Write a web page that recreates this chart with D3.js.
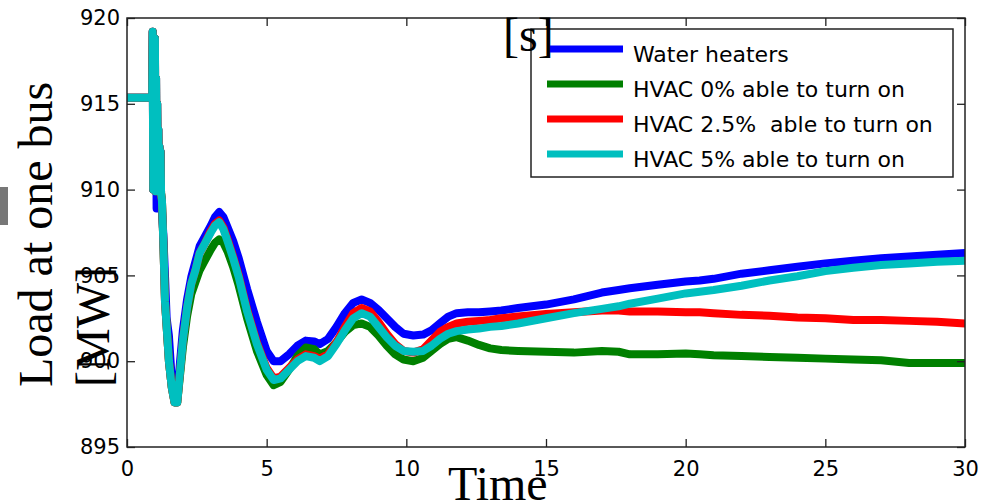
<!DOCTYPE html>
<html>
<head>
<meta charset="utf-8">
<script src="https://cdn.jsdelivr.net/npm/d3@7"></script>
<style>
  body { margin: 0; background: white; }
  svg { display: block; }
</style>
</head>
<body>
<div class="load-plot"></div>
<script>
// time [s]
const time = [0, 0.9, 0.92, 0.94, 0.96, 0.98, 1.0, 1.02, 1.04, 1.06, 1.08, 1.1, 1.12, 1.14, 1.16, 1.18, 1.2, 1.22, 1.25,
  1.3, 1.36, 1.42, 1.5, 1.6, 1.7, 1.8, 1.9, 2.0, 2.15, 2.3, 2.45, 2.6, 2.8, 3.0, 3.15, 3.3, 3.45, 3.6, 3.8, 4.0,
  4.3, 4.65, 5.0, 5.25, 5.5, 5.8, 6.1, 6.4, 6.7, 6.9, 7.2, 7.5, 7.8, 8.1, 8.4, 8.7, 9.0, 9.3, 9.6, 9.9,
  10.25, 10.6, 10.9, 11.2, 11.5, 11.8, 12.2, 12.6, 13.0, 13.4, 14, 15, 16, 17, 17.6, 18, 19, 20, 20.5, 21,
  22, 23, 24, 25, 26, 27, 28, 29, 30];

const waterHeaters = [915.35, 915.35, 919.2, 910.0, 917.5, 910.2, 918.8, 909.9, 916.5, 908.9, 915.0, 910.1, 913.5, 909.0, 912.5, 910.0, 912.2, 909.0, 908.8,
  907.4, 905.0, 902.5, 901.5, 899.0, 897.9, 898.0, 900.0, 901.8, 903.6, 904.9, 905.8, 906.7, 907.3, 907.9, 908.4, 908.7, 908.4, 907.8, 907.0, 906.0,
  904.2, 902.3, 900.6, 900.0, 900.0, 900.4, 900.9, 901.2, 901.15, 901.0, 901.3, 902.0, 902.8, 903.4, 903.6, 903.4, 903.0, 902.5, 902.0, 901.6,
  901.5, 901.55, 901.8, 902.2, 902.6, 902.8, 902.85, 902.85, 902.9, 902.95, 903.1, 903.3, 903.6, 904.0, 904.15, 904.25, 904.45, 904.65, 904.7, 904.8,
  905.1, 905.3, 905.5, 905.7, 905.85, 906.0, 906.1, 906.2, 906.3];

const hvac0 = [915.35, 915.35, 919.2, 910.0, 917.5, 910.2, 918.8, 909.9, 916.5, 910.0, 915.0, 910.1, 913.5, 909.9, 912.5, 910.0, 912.2, 909.8, 909.4,
  907.0, 903.5, 902.0, 900.0, 898.5, 897.6, 897.6, 899.2, 900.8, 902.6, 903.9, 904.6, 905.3, 905.9, 906.5, 906.9, 907.1, 906.9, 906.4, 905.5, 904.4,
  902.5, 900.6, 899.2, 898.6, 898.8, 899.5, 900.3, 900.8, 900.7, 900.4, 900.6, 901.1, 901.7, 902.1, 902.2, 902.0, 901.5, 900.9, 900.4, 900.1,
  900.0, 900.2, 900.6, 901.0, 901.3, 901.4, 901.2, 900.95, 900.75, 900.65, 900.6, 900.55, 900.5, 900.6, 900.55, 900.4, 900.4, 900.45, 900.4, 900.35,
  900.3, 900.25, 900.2, 900.15, 900.1, 900.05, 899.9, 899.9, 899.9];

const hvac25 = [915.35, 915.35, 919.2, 910.0, 917.5, 910.2, 918.8, 909.9, 916.5, 910.0, 915.0, 910.1, 913.5, 909.9, 912.5, 910.0, 912.2, 909.8, 909.4,
  907.0, 903.5, 902.0, 900.0, 898.5, 897.6, 897.6, 899.4, 901.2, 903.1, 904.5, 905.3, 906.3, 906.9, 907.6, 908.0, 908.2, 907.8, 907.1, 906.1, 905.0,
  903.0, 901.1, 899.6, 899.0, 899.1, 899.6, 900.1, 900.4, 900.3, 900.15, 900.4, 901.1, 902.0, 902.8, 903.1, 902.9, 902.3, 901.6, 901.0, 900.6,
  900.5, 900.7, 901.2, 901.7, 902.0, 902.2, 902.3, 902.35, 902.4, 902.5, 902.6, 902.75, 902.85, 902.95, 902.95, 902.9, 902.9, 902.85, 902.85, 902.8,
  902.7, 902.65, 902.55, 902.5, 902.4, 902.4, 902.35, 902.3, 902.2];

const hvac5 = [915.35, 915.35, 919.2, 910.0, 917.5, 910.2, 918.8, 909.9, 916.5, 910.0, 915.0, 910.1, 913.5, 909.9, 912.5, 910.0, 912.2, 909.8, 909.4,
  907.0, 903.5, 902.0, 900.0, 898.5, 897.6, 897.6, 899.4, 901.2, 903.1, 904.5, 905.3, 906.3, 906.9, 907.5, 907.9, 908.1, 907.7, 907.0, 906.0, 904.9,
  902.9, 901.0, 899.5, 898.9, 899.0, 899.5, 900.0, 900.3, 900.2, 900.0, 900.3, 901.0, 901.8, 902.5, 902.8, 902.6, 902.0, 901.4, 900.9, 900.6,
  900.55, 900.6, 900.9, 901.3, 901.6, 901.75, 901.85, 901.9, 902.0, 902.05, 902.2, 902.5, 902.8, 903.05, 903.2, 903.35, 903.65, 903.95, 904.05, 904.15,
  904.4, 904.7, 904.95, 905.25, 905.45, 905.6, 905.7, 905.8, 905.85];

const seriesNames = ['Water heaters', 'HVAC 0% able to turn on', 'HVAC 2.5%  able to turn on', 'HVAC 5% able to turn on'];
const seriesValues = [waterHeaters, hvac0, hvac25, hvac5];
const seriesColors = ['#0000ff', '#008000', '#ff0000', '#00bfbf'];

const xTicks = [0, 5, 10, 15, 20, 25, 30];
const yTicks = [895, 900, 905, 910, 915, 920];

makeChart();

function makeChart() {
    const outerWidth = 992;
    const outerHeight = 503;
    const margin = {top: 18, left: 127, bottom: 56, right: 27};
    const width = outerWidth - margin.left - margin.right;
    const height = outerHeight - margin.top - margin.bottom;

    const root = d3.select('.load-plot')
        .append('svg')
        .attr('width', outerWidth)
        .attr('height', outerHeight);

    // stray grey mark at the left edge
    root.append('rect')
        .attr('x', 0).attr('y', 187)
        .attr('width', 8).attr('height', 38)
        .attr('fill', '#777');

    const svg = root.append('g')
        .attr('transform', `translate(${margin.left}, ${margin.top})`);

    const xScale = d3.scaleLinear().domain([0, 30]).range([0, width]);
    const yScale = d3.scaleLinear().domain([895, 920]).range([height, 0]);

    svg.append('clipPath').attr('id', 'plot-clip')
        .append('rect').attr('width', width).attr('height', height);

    const line = d3.line()
        .x((d, i) => xScale(time[i]))
        .y(d => yScale(d));

    svg.append('g')
        .attr('clip-path', 'url(#plot-clip)')
        .selectAll('path')
        .data(seriesValues)
        .enter()
        .append('path')
        .attr('fill', 'none')
        .attr('stroke', (d, i) => seriesColors[i])
        .attr('stroke-width', 8)
        .attr('stroke-linejoin', 'round')
        .attr('stroke-linecap', 'round')
        .attr('d', line);

    const tickFont = g => g.selectAll('text')
        .attr('font-family', 'DejaVu Sans')
        .attr('font-size', 21)
        .attr('fill', 'black');

    svg.append('g')
        .attr('transform', `translate(0, ${height})`)
        .call(d3.axisBottom(xScale).tickValues(xTicks).tickFormat(d3.format('d'))
            .tickSizeInner(-8).tickSizeOuter(0).tickPadding(14))
        .call(g => g.select('.domain').remove())
        .call(tickFont);

    svg.append('g')
        .call(d3.axisLeft(yScale).tickValues(yTicks).tickFormat(d3.format('d'))
            .tickSizeInner(-8).tickSizeOuter(0).tickPadding(7))
        .call(g => g.select('.domain').remove())
        .call(tickFont);

    svg.append('g')
        .call(d3.axisTop(xScale).tickValues(xTicks).tickFormat('').tickSizeInner(-8).tickSizeOuter(0))
        .call(g => g.select('.domain').remove());

    svg.append('g')
        .attr('transform', `translate(${width}, 0)`)
        .call(d3.axisRight(yScale).tickValues(yTicks).tickFormat('').tickSizeInner(-8).tickSizeOuter(0))
        .call(g => g.select('.domain').remove());

    svg.selectAll('.tick line').attr('stroke', '#222').attr('stroke-width', 1.3);

    svg.append('rect')
        .attr('width', width).attr('height', height)
        .attr('fill', 'none')
        .attr('stroke', '#222')
        .attr('stroke-width', 1.5);

    // legend
    const legend = root.append('g');
    legend.append('rect')
        .attr('x', 531).attr('y', 29)
        .attr('width', 422).attr('height', 148)
        .attr('fill', 'white')
        .attr('stroke', '#222')
        .attr('stroke-width', 1.5);

    const rows = legend.selectAll('.row')
        .data(seriesNames)
        .enter()
        .append('g')
        .attr('transform', (d, i) => `translate(0, ${62 + i * 35})`);
    rows.append('line')
        .attr('x1', 547).attr('x2', 623)
        .attr('y1', -13).attr('y2', -13)
        .attr('stroke', (d, i) => seriesColors[i])
        .attr('stroke-width', 7);
    rows.append('text')
        .attr('x', 633)
        .attr('font-family', 'DejaVu Sans')
        .attr('font-size', 22)
        .attr('fill', 'black')
        .style('white-space', 'pre')
        .text(d => d);

    // axis titles (wrapped, as in the original figure)
    const serif = 'Liberation Serif, Times New Roman, serif';
    root.append('text')
        .attr('transform', 'translate(52, 387) rotate(-90)')
        .attr('font-family', serif).attr('font-size', 48)
        .attr('fill', 'black')
        .text('Load at one bus');
    root.append('text')
        .attr('transform', 'translate(109, 387) rotate(-90)')
        .attr('font-family', serif).attr('font-size', 48)
        .attr('fill', 'black')
        .text('[MW]');
    root.append('text')
        .attr('x', 448).attr('y', 500)
        .attr('font-family', serif).attr('font-size', 48)
        .attr('fill', 'black')
        .text('Time');
    root.append('text')
        .attr('x', 503).attr('y', 51)
        .attr('font-family', serif).attr('font-size', 48)
        .attr('fill', 'black')
        .text('[s]');
}
</script>
</body>
</html>
